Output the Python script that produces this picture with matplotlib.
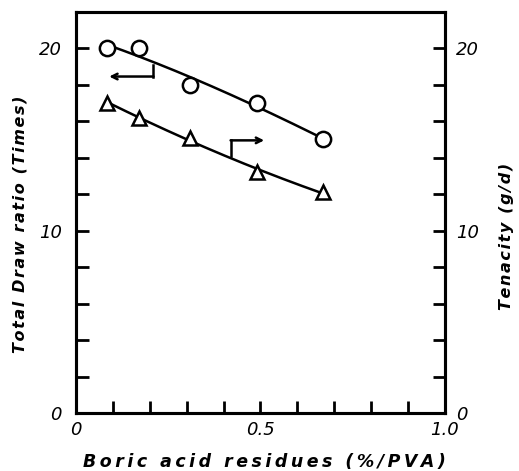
import numpy as np
import matplotlib.pyplot as plt

# --------------------
# Data
# --------------------
boric = np.array([0.085, 0.17, 0.31, 0.49, 0.67])
draw_ratio = np.array([20.0, 20.0, 18.0, 17.0, 15.0])
tenacity = np.array([17.0, 16.2, 15.1, 13.2, 12.1])


def spaced(s, gap="\u2009"):
    # old typewriter-like letter spacing
    return gap.join(s)


plt.rcParams.update({
    "font.family": "DejaVu Sans",
    "font.style": "italic",
    "axes.linewidth": 2.2,
})

fig = plt.figure(figsize=(5.19, 4.71), dpi=100)
ax = fig.add_axes([0.1464, 0.123, 0.711, 0.852])
ax2 = ax.twinx()

# smooth fitted curves, as drawn in the original
xs = np.linspace(boric[0], boric[-1], 200)
ax.plot(xs, np.polyval(np.polyfit(boric, draw_ratio, 3), xs),
        color="k", lw=1.8, zorder=2)
ax2.plot(xs, np.polyval(np.polyfit(boric, tenacity, 2), xs),
         color="k", lw=1.8, zorder=2)

ax.plot(boric, draw_ratio, "o", ms=11, mfc="white", mec="k", mew=1.8, zorder=3)
ax2.plot(boric, tenacity, "^", ms=10, mfc="white", mec="k", mew=1.8, zorder=3)

# --------------------
# Axes formatting
# --------------------
for a in (ax, ax2):
    a.set_xlim(0, 1.0)
    a.set_ylim(0, 22)
    a.set_yticks(np.arange(0, 21, 2))
    a.set_yticklabels(["0", "", "", "", "", "10", "", "", "", "", "20"])

ax.set_xticks(np.arange(0, 1.01, 0.1))
ax.set_xticklabels(["0", "", "", "", "", "0.5", "", "", "", "", "1.0"])
ax.tick_params(axis="both", direction="in", length=9, width=2, labelsize=13, pad=6)
ax.tick_params(axis="y", pad=10)
ax2.tick_params(axis="y", direction="in", length=9, width=2, labelsize=13, pad=8)

ax.set_ylabel(spaced("Total Draw ratio (Times)", "\u200a"), fontsize=11.5,
              fontweight="bold", va="center")
ax.yaxis.set_label_coords(-0.152, 0.47)
ax2.set_ylabel(spaced("Tenacity (g/d)", "\u200a"), fontsize=11.5,
               fontweight="bold", rotation=90, va="center")
ax2.yaxis.set_label_coords(1.168, 0.44)
ax.set_xlabel(spaced("Boric acid residues (%/PVA)"), fontsize=12.5,
              fontweight="bold", labelpad=8)
ax.xaxis.set_label_coords(0.51, -0.1)

# --------------------
# Direction arrows
# --------------------
ax.plot([0.209, 0.209], [19.1, 18.45], color="k", lw=1.8)
ax.annotate("", xy=(0.09, 18.45), xytext=(0.21, 18.45),
            arrowprops=dict(arrowstyle="->", lw=1.8, color="k",
                            shrinkA=0, shrinkB=0))
ax.plot([0.42, 0.42], [14.1, 14.95], color="k", lw=1.8)
ax.annotate("", xy=(0.51, 14.95), xytext=(0.419, 14.95),
            arrowprops=dict(arrowstyle="->", lw=1.8, color="k",
                            shrinkA=0, shrinkB=0))

plt.savefig("out.png", dpi=100)
